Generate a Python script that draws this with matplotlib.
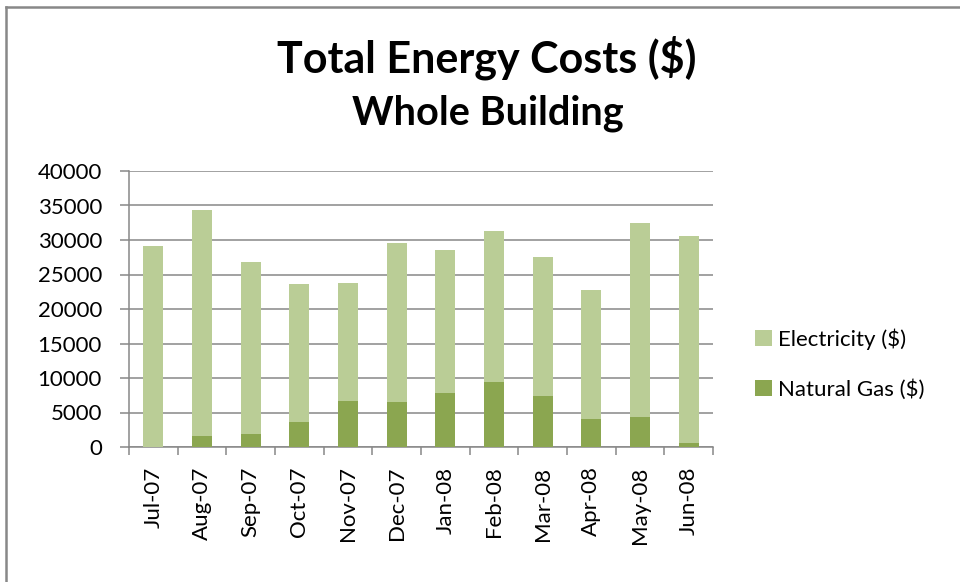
import numpy as np
import matplotlib.pyplot as plt
from matplotlib.lines import Line2D
from matplotlib.ticker import FixedLocator

# data
months = ['Jul-07', 'Aug-07', 'Sep-07', 'Oct-07', 'Nov-07', 'Dec-07',
          'Jan-08', 'Feb-08', 'Mar-08', 'Apr-08', 'May-08', 'Jun-08']
natural_gas = [0, 1650, 1940, 3690, 6650, 6460,
               7770, 9370, 7330, 4130, 4420, 630]
totals = [29200, 34400, 26850, 23640, 23790, 29610,
          28590, 31360, 27570, 22770, 32520, 30630]
electricity = [t - g for t, g in zip(totals, natural_gas)]

ELEC_COLOR = '#BACD96'
GAS_COLOR = '#8BA650'
GREY = '#888888'

plt.rcParams['font.family'] = ['Lato', 'DejaVu Sans']

W, H = 960, 582
fig = plt.figure(figsize=(W / 100, H / 100), dpi=100)

# plot area in pixels
left, right, top, bottom = 129, 713, 171, 447
ax = fig.add_axes([left / W, 1 - bottom / H, (right - left) / W, (bottom - top) / H])

x = np.arange(len(months))
ax.bar(x, natural_gas, width=0.41, color=GAS_COLOR, zorder=3, label='Natural Gas ($)')
ax.bar(x, electricity, width=0.41, bottom=natural_gas, color=ELEC_COLOR, zorder=3,
       label='Electricity ($)')

ax.set_xlim(-0.5, len(months) - 0.5)
ax.set_ylim(0, 40000)
ax.set_yticks(np.arange(0, 40001, 5000))
ax.yaxis.grid(True, color=GREY, linewidth=1.1, zorder=0)

# category boundary ticks, labels in between
ax.xaxis.set_major_locator(FixedLocator(np.arange(-0.5, len(months), 1.0)))
ax.xaxis.set_minor_locator(FixedLocator(x))
ax.set_xticklabels([])
ax.set_xticklabels(months, minor=True, rotation=90, fontsize=16)
ax.tick_params(axis='x', which='major', length=6, width=1.1, color=GREY, direction='out')
ax.tick_params(axis='x', which='minor', length=0, pad=14)
ax.tick_params(axis='y', length=6.5, width=1.1, color=GREY, direction='out',
               labelsize=16, pad=13)

for side in ['top', 'right']:
    ax.spines[side].set_visible(False)
for side in ['left', 'bottom']:
    ax.spines[side].set_color(GREY)
    ax.spines[side].set_linewidth(1.1)

# titles
fig.text(487 / W, 1 - 73 / H, 'Total Energy Costs ($)', ha='center', va='baseline',
         fontsize=31, fontweight='bold')
fig.text(488 / W, 1 - 124 / H, 'Whole Building', ha='center', va='baseline',
         fontsize=28.5, fontweight='bold')

# legend, electricity on top
handles, labels = ax.get_legend_handles_labels()
fig.legend(handles[::-1], labels[::-1], loc='center left',
           bbox_to_anchor=(755 / W, 1 - 364 / H), frameon=False, fontsize=16,
           handlelength=0.75, handleheight=0.75, handletextpad=0.3,
           labelspacing=1.3, borderpad=0, borderaxespad=0)

# chart frame, only top and left edges show in the picture
fig.add_artist(Line2D([6 / W, 6 / W], [0, 1 - 7 / H], color=GREY, linewidth=1.8))
fig.add_artist(Line2D([6 / W, 1], [1 - 7 / H, 1 - 7 / H], color=GREY, linewidth=1.8))

fig.savefig('out.png', dpi=100)
